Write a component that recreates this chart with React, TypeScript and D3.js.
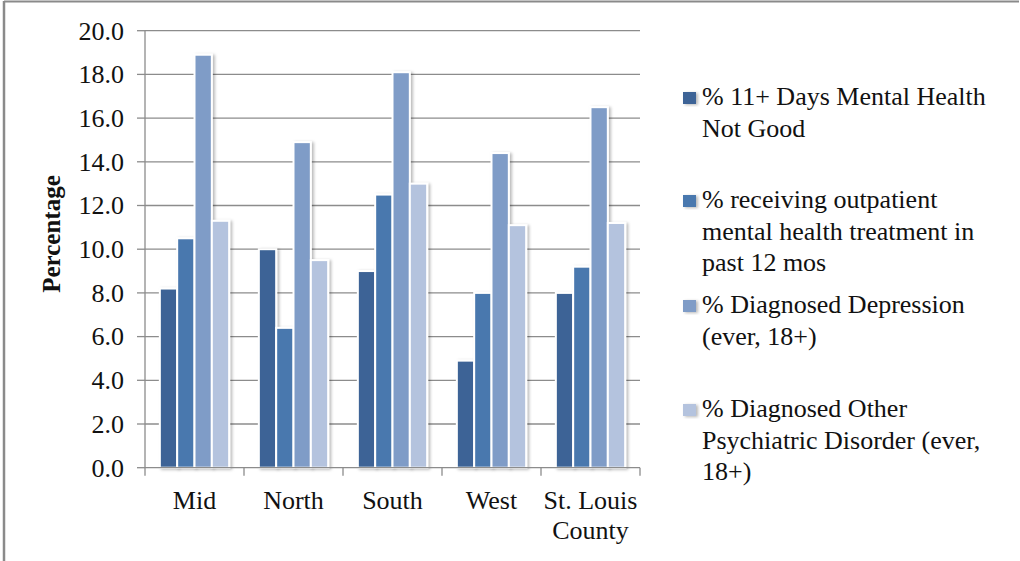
import React, { useEffect, useRef } from "react";
import * as d3 from "d3";

// Regions and the four mental-health indicators (percent)
const regions = ["Mid", "North", "South", "West", "St. Louis County"];
const regionLabelLines = [["Mid"], ["North"], ["South"], ["West"], ["St. Louis", "County"]];
const seriesKeys = ["days", "outpatient", "depression", "other"];
const seriesLegendLines = [
  ["% 11+ Days Mental Health", "Not Good"],
  ["% receiving outpatient", "mental health treatment in", "past 12 mos"],
  ["% Diagnosed Depression", "(ever, 18+)"],
  ["% Diagnosed Other", "Psychiatric Disorder (ever,", "18+)"],
];
const seriesColors = ["#3d6496", "#4a78ae", "#7f9cc7", "#b4c3de"];

const daysNotGood = [8.2, 10.0, 9.0, 4.9, 8.0];
const outpatientTreatment = [10.5, 6.4, 12.5, 8.0, 9.2];
const diagnosedDepression = [18.9, 14.9, 18.1, 14.4, 16.5];
const diagnosedOther = [11.3, 9.5, 13.0, 11.1, 11.2];
const seriesValues = [daysNotGood, outpatientTreatment, diagnosedDepression, diagnosedOther];

const yTicks = [0, 2, 4, 6, 8, 10, 12, 14, 16, 18, 20];

const W = 1020;
const H = 561;
const FONT = "Liberation Serif, Times New Roman, serif";

export default function App() {
  const ref = useRef<SVGSVGElement>(null);

  useEffect(() => {
    const svg = d3.select(ref.current);
    svg.selectAll("*").remove();

    const plot = { left: 145, right: 640, top: 30.7, bottom: 467.7 };

    const y = d3.scaleLinear().domain([0, 20]).range([plot.bottom, plot.top]);
    const x0 = d3
      .scaleBand<string>()
      .domain(regions)
      .range([plot.left, plot.right])
      .paddingInner(0.3)
      .paddingOuter(0.15);
    const x1 = d3.scaleBand<string>().domain(seriesKeys).range([0, x0.bandwidth()]);

    const defs = svg.append("defs");
    const f = defs
      .append("filter")
      .attr("id", "barShadow")
      .attr("x", "-30%")
      .attr("y", "-10%")
      .attr("width", "160%")
      .attr("height", "130%");
    f.append("feDropShadow")
      .attr("dx", 2)
      .attr("dy", 1)
      .attr("stdDeviation", 1.6)
      .attr("flood-color", "#000")
      .attr("flood-opacity", 0.28);

    // Outer frame (top and left edges)
    svg.append("line").attr("x1", 4).attr("x2", 1019).attr("y1", 1.5).attr("y2", 1.5)
      .attr("stroke", "#8a8a8a").attr("stroke-width", 2);
    svg.append("line").attr("x1", 4).attr("x2", 4).attr("y1", 1).attr("y2", H)
      .attr("stroke", "#8a8a8a").attr("stroke-width", 2.5);

    // Gridlines
    svg.append("g")
      .selectAll("line")
      .data(yTicks.filter((t) => t > 0))
      .join("line")
      .attr("x1", plot.left)
      .attr("x2", plot.right)
      .attr("y1", (d) => y(d))
      .attr("y2", (d) => y(d))
      .attr("stroke", "#8c8c8c")
      .attr("stroke-width", 1.3);

    // Y axis
    const ya = svg.append("g");
    ya.append("line").attr("x1", plot.left).attr("x2", plot.left)
      .attr("y1", plot.top).attr("y2", plot.bottom)
      .attr("stroke", "#8c8c8c").attr("stroke-width", 1.3);
    ya.selectAll("line.tick")
      .data(yTicks)
      .join("line")
      .attr("class", "tick")
      .attr("x1", plot.left - 8)
      .attr("x2", plot.left)
      .attr("y1", (d) => y(d))
      .attr("y2", (d) => y(d))
      .attr("stroke", "#8c8c8c")
      .attr("stroke-width", 1.3);
    ya.selectAll("text")
      .data(yTicks)
      .join("text")
      .attr("x", 124)
      .attr("y", (d) => y(d))
      .attr("dy", "0.34em")
      .attr("text-anchor", "end")
      .attr("font-size", 26)
      .attr("fill", "#111")
      .text((d) => d3.format(".1f")(d));

    svg.append("text")
      .attr("transform", `translate(60,234) rotate(-90)`)
      .attr("text-anchor", "middle")
      .attr("font-size", 25)
      .attr("font-weight", "bold")
      .attr("fill", "#111")
      .text("Percentage");

    // Bars
    const groups = svg.append("g")
      .selectAll("g")
      .data(regions)
      .join("g")
      .attr("transform", (d) => `translate(${x0(d)},0)`);
    groups
      .selectAll("rect")
      .data((_, i) => seriesKeys.map((k, s) => ({ k, s, v: seriesValues[s][i] })))
      .join("rect")
      .attr("x", (d) => x1(d.k)!)
      .attr("y", (d) => y(d.v))
      .attr("width", x1.bandwidth())
      .attr("height", (d) => y(0) - y(d.v))
      .attr("fill", (d) => seriesColors[d.s])
      .attr("stroke", "#fff")
      .attr("stroke-width", 2)
      .attr("filter", "url(#barShadow)");

    // X axis
    const xa = svg.append("g");
    xa.append("line").attr("x1", plot.left).attr("x2", plot.right)
      .attr("y1", plot.bottom).attr("y2", plot.bottom)
      .attr("stroke", "#8c8c8c").attr("stroke-width", 1.3);
    const step = x0.step();
    const boundaries = d3.range(regions.length + 1).map((i) => plot.left + i * step);
    xa.selectAll("line.tick")
      .data(boundaries)
      .join("line")
      .attr("class", "tick")
      .attr("x1", (d) => d)
      .attr("x2", (d) => d)
      .attr("y1", plot.bottom)
      .attr("y2", plot.bottom + 8)
      .attr("stroke", "#8c8c8c")
      .attr("stroke-width", 1.3);
    regions.forEach((r, i) => {
      const cx = x0(r)! + x0.bandwidth() / 2;
      const t = xa.append("text")
        .attr("text-anchor", "middle")
        .attr("font-size", 26)
        .attr("fill", "#111");
      regionLabelLines[i].forEach((line, j) => {
        t.append("tspan").attr("x", cx).attr("y", 509 + j * 30).text(line);
      });
    });

    // Legend
    const legendTop = [105, 208, 313, 417];
    const lg = svg.append("g");
    seriesLegendLines.forEach((lines, s) => {
      const by = legendTop[s];
      lg.append("rect")
        .attr("x", 683)
        .attr("y", by - 13)
        .attr("width", 13)
        .attr("height", 12)
        .attr("fill", seriesColors[s])
        .attr("filter", "url(#barShadow)");
      const t = lg.append("text")
        .attr("font-size", 26)
        .attr("fill", "#111");
      lines.forEach((line, j) => {
        t.append("tspan").attr("x", 702).attr("y", by + j * 31.5).text(line);
      });
    });
  }, []);

  return (
    <svg
      ref={ref}
      width={W}
      height={H}
      style={{ position: "absolute", left: 0, top: 0, background: "#fff", fontFamily: FONT }}
    />
  );
}
